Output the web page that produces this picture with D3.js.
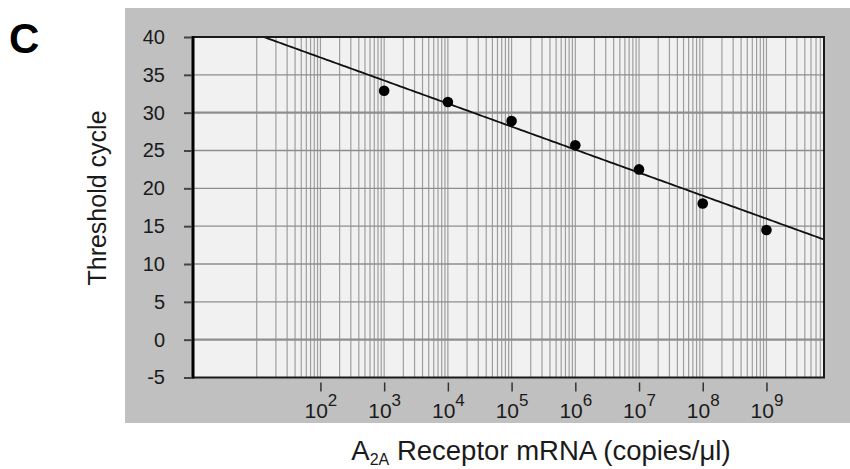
<!DOCTYPE html>
<html>
<head>
<meta charset="utf-8">
<script src="https://cdn.jsdelivr.net/npm/d3@7"></script>
<style>
  html, body { margin: 0; padding: 0; background: #ffffff; }
  svg { display: block; font-family: "Liberation Sans", Arial, sans-serif; }
</style>
</head>
<body>
<svg id="chart" width="850" height="469"></svg>
<script>
// Standard curve: threshold cycle vs. A2A receptor mRNA copy number
const copies = [1e3, 1e4, 1e5, 1e6, 1e7, 1e8, 1e9];
const thresholdCycle = [32.9, 31.4, 28.9, 25.7, 22.5, 18.0, 14.5];

// Linear fit of Ct against log10(copies)
const fitIntercept = 43.38;
const fitSlope = -3.044;

const yTicks = [-5, 0, 5, 10, 15, 20, 25, 30, 35, 40];
const xTickExponents = [2, 3, 4, 5, 6, 7, 8, 9];
const xDomain = [1, 8e9];
const yDomain = [-5, 40];

const svg = d3.select("#chart");
const plot = { left: 193, right: 824, top: 37, bottom: 377.5 };

const x = d3.scaleLog().domain(xDomain).range([plot.left, plot.right]);
const y = d3.scaleLinear().domain(yDomain).range([plot.bottom, plot.top]);

// grey panel behind the chart
svg.append("rect")
  .attr("x", 125).attr("y", 8).attr("width", 725).attr("height", 415)
  .attr("fill", "#c0c0c0");

// plotting area
svg.append("rect")
  .attr("x", plot.left).attr("y", plot.top)
  .attr("width", plot.right - plot.left).attr("height", plot.bottom - plot.top)
  .attr("fill", "#f1f1f1");

svg.append("defs").append("clipPath").attr("id", "plotClip")
  .append("rect")
  .attr("x", plot.left).attr("y", plot.top)
  .attr("width", plot.right - plot.left).attr("height", plot.bottom - plot.top);

// vertical log grid (1..9 x 10^n, starting at 10^1)
const vGrid = [];
for (let n = 1; n <= 9; n++) {
  for (let k = 1; k <= 9; k++) {
    const v = k * Math.pow(10, n);
    if (v < xDomain[1]) vGrid.push(v);
  }
}
svg.append("g").attr("clip-path", "url(#plotClip)")
  .selectAll("line").data(vGrid).join("line")
  .attr("x1", d => x(d)).attr("x2", d => x(d))
  .attr("y1", plot.top).attr("y2", plot.bottom)
  .attr("stroke", "#9e9e9e").attr("stroke-width", 1.2);

// horizontal grid
svg.append("g")
  .selectAll("line").data(yTicks.filter(d => d > yDomain[0] && d < yDomain[1])).join("line")
  .attr("x1", plot.left).attr("x2", plot.right)
  .attr("y1", d => y(d)).attr("y2", d => y(d))
  .attr("stroke", "#8e8e8e")
  .attr("stroke-width", d => (d === 0 || d === 30) ? 2.2 : 1.4);

// fitted standard curve
const fitPoints = d3.range(1, 10.01, 0.05).map(l => [Math.pow(10, l), fitIntercept + fitSlope * l])
  .filter(p => p[0] <= xDomain[1] * 1.0001);
fitPoints.push([xDomain[1], fitIntercept + fitSlope * Math.log10(xDomain[1])]);
svg.append("path")
  .attr("clip-path", "url(#plotClip)")
  .datum(fitPoints)
  .attr("fill", "none")
  .attr("stroke", "#111")
  .attr("stroke-width", 1.8)
  .attr("d", d3.line().x(d => x(d[0])).y(d => y(d[1])));

// data points
svg.append("g")
  .selectAll("circle").data(copies.map((c, i) => [c, thresholdCycle[i]])).join("circle")
  .attr("cx", d => x(d[0])).attr("cy", d => y(d[1]))
  .attr("r", 5.3).attr("fill", "#000");

// frame
svg.append("rect")
  .attr("x", plot.left).attr("y", plot.top)
  .attr("width", plot.right - plot.left).attr("height", plot.bottom - plot.top)
  .attr("fill", "none").attr("stroke", "#1a1a1a").attr("stroke-width", 2);
svg.append("line")
  .attr("x1", plot.left).attr("x2", plot.left)
  .attr("y1", plot.top - 1).attr("y2", plot.bottom + 1)
  .attr("stroke", "#000").attr("stroke-width", 3);

// y axis
const yAxis = svg.append("g")
  .attr("transform", `translate(${plot.left - 1},0)`)
  .call(d3.axisLeft(y).tickValues(yTicks).tickSize(8).tickPadding(19).tickFormat(d => String(d)));
yAxis.select(".domain").remove();
yAxis.selectAll(".tick line").attr("stroke", "#444").attr("stroke-width", 2);
yAxis.selectAll(".tick text")
  .attr("font-size", 20).attr("fill", "#1a1a1a")
  .attr("font-family", "Liberation Sans, Arial, sans-serif");

// x axis (decade ticks with superscript exponents)
const xAxis = svg.append("g")
  .attr("transform", `translate(0,${plot.bottom + 5})`)
  .call(d3.axisBottom(x).tickValues(xTickExponents.map(e => Math.pow(10, e))).tickSize(9).tickFormat(""));
xAxis.select(".domain").remove();
xAxis.selectAll(".tick line").attr("stroke", "#333").attr("stroke-width", 1.5);
xAxis.selectAll(".tick text").remove();
xAxis.selectAll(".tick").each(function(d) {
  const t = d3.select(this).append("text")
    .attr("y", 35)
    .attr("text-anchor", "middle")
    .attr("fill", "#1a1a1a")
    .attr("font-family", "Liberation Sans, Arial, sans-serif");
  t.append("tspan").attr("font-size", 21).text("10");
  t.append("tspan").attr("font-size", 17).attr("dy", -12).text(Math.round(Math.log10(d)));
});

// panel letter
svg.append("text")
  .attr("x", 9).attr("y", 53)
  .attr("font-size", 42).attr("font-weight", "bold").attr("fill", "#000")
  .text("C");

// axis titles
svg.append("text")
  .attr("transform", "translate(106,198) rotate(-90)")
  .attr("text-anchor", "middle")
  .attr("font-size", 25).attr("fill", "#1a1a1a")
  .text("Threshold cycle");

const xTitle = svg.append("text")
  .attr("x", 541).attr("y", 460)
  .attr("text-anchor", "middle")
  .attr("font-size", 27.5).attr("fill", "#1a1a1a");
xTitle.append("tspan").text("A");
xTitle.append("tspan").attr("font-size", 16).attr("dy", 5).text("2A");
xTitle.append("tspan").attr("dy", -5).text(" Receptor mRNA (copies/\u03bcl)");
</script>
</body>
</html>
